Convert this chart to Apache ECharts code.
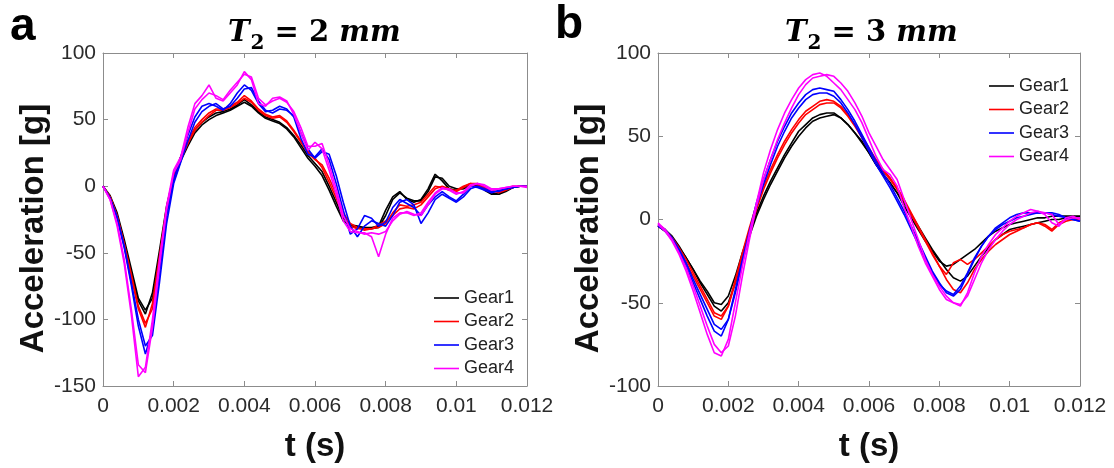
<!DOCTYPE html>
<html>
<head>
<meta charset="utf-8">
<script src="https://cdn.jsdelivr.net/npm/echarts@6/dist/echarts.min.js"></script>
<style>html,body{margin:0;padding:0;background:#fff;}#c{width:1114px;height:468px;}</style>
</head>
<body>
<div id="c"></div>
<script>
// ---- time samples (s) ----
const time = [0,0.0002,0.0004,0.0006,0.0008,0.001,0.0012,0.0014,0.0016,0.0018,0.002,0.0022,0.0024,0.0026,0.0028,0.003,0.0032,0.0034,0.0036,0.0038,0.004,0.0042,0.0044,0.0046,0.0048,0.005,0.0052,0.0054,0.0056,0.0058,0.006,0.0062,0.0064,0.0066,0.0068,0.007,0.0072,0.0074,0.0076,0.0078,0.008,0.0082,0.0084,0.0086,0.0088,0.009,0.0092,0.0094,0.0096,0.0098,0.01,0.0102,0.0104,0.0106,0.0108,0.011,0.0112,0.0114,0.0116,0.0118,0.012];

const gearNames = ['Gear1','Gear2','Gear3','Gear4'];
const gearColors = ['#000000','#ff0000','#0000ff','#ff00ff'];
const xTickLabels = ['0','0.002','0.004','0.006','0.008','0.01','0.012'];

// ---- panel a: T2 = 2 mm (two trials per gear) ----
const aGear1t1 = [0,-8,-22,-42,-65, -86,-96,-80,-48,-15, 8,22,33,42,48, 52,55,56,58,61, 65,61,56,52,50, 48,44,38,31,23, 17,11,0,-12,-24, -29,-30,-31,-31,-30, -18,-8,-4,-10,-12, -10,-2,9,4,-2, -3,-1,1,1,-3, -6,-6,-3,-1,0, 0];
const aGear1t2 = [0,-7,-20,-40,-62, -84,-93,-84,-55,-20, 4,19,30,40,46, 50,53,55,57,60, 63,60,55,51,49, 47,43,37,29,21, 15,8,-3,-15,-26, -30,-31,-32,-32,-31, -22,-10,-5,-9,-11, -11,-4,7,6,0, -2,-2,0,1,-2, -5,-6,-4,-1,0, 0];
const aGear2t1 = [0,-8,-23,-44,-68, -92,-106,-88,-52,-16, 7,22,34,44,50, 55,58,58,60,63, 68,64,58,54,52, 53,49,42,34,26, 21,14,3,-9,-22, -30,-32,-32,-32,-31, -28,-20,-14,-15,-14, -12,-6,0,-1,-3, -3,0,2,1,-2, -4,-4,-2,0,0, 0];
const aGear2t2 = [0,-8,-22,-43,-66, -90,-103,-92,-58,-20, 5,20,32,42,48, 53,57,57,59,62, 66,63,57,53,51, 52,48,41,33,25, 20,16,6,-6,-20, -28,-31,-33,-32,-29, -26,-22,-17,-16,-17, -14,-8,-2,0,-2, -4,-1,2,2,-1, -3,-5,-3,-1,0, 0];
const aGear3t1 = [0,-9,-24,-46,-74, -105,-126,-108,-65,-22, 5,22,38,52,60, 62,60,57,62,70, 76,72,62,56,57, 60,58,52,36,24, 22,28,20,2,-18, -36,-32,-22,-24,-30, -27,-16,-10,-13,-16, -22,-14,-8,-4,-8, -11,-6,0,-1,-3, -5,-3,-2,-1,0, 0];
const aGear3t2 = [0,-9,-23,-45,-72, -100,-120,-112,-72,-28, 2,18,34,48,56, 60,62,58,60,66, 73,74,64,57,55, 58,57,53,40,28, 21,26,24,8,-12, -30,-38,-30,-26,-28, -30,-22,-12,-10,-14, -28,-20,-10,-6,-9, -12,-8,-2,0,-2, -4,-4,-2,-1,0, 0];
const aGear4t1 = [0,-10,-30,-58,-96, -143,-136,-100,-55,-15, 12,22,44,62,68, 76,66,64,70,76, 86,80,62,60,66, 67,64,54,40,27, 33,28,12,-6,-26, -34,-35,-35,-38,-53, -36,-24,-20,-20,-22, -20,-12,-5,-1,-3, -6,-4,1,2,0, -3,-2,-1,0,0, -1];
const aGear4t2 = [0,-10,-28,-55,-92, -134,-140,-106,-60,-18, 10,20,40,58,65, 70,68,65,72,78, 84,82,66,61,64, 66,63,56,44,30, 30,32,16,-2,-22, -32,-34,-36,-35,-36, -34,-26,-21,-19,-21, -22,-14,-6,-2,-2, -5,-5,0,2,1, -2,-2,-1,0,0, 0];

// ---- panel b: T2 = 3 mm (two trials per gear) ----
const bGear1t1 = [-4,-7,-11,-17,-23, -30,-37,-43,-50,-51, -46,-34,-20,-8,4, 14,23,31,39,46, 53,57,61,63,64, 64,61,57,52,47, 40,33,27,22,16, 8,1,-6,-13,-19, -25,-28,-27,-24,-21, -18,-14,-10,-7,-5, -3,-2,-1,0,1, 1,2,2,2,2, 2];
const bGear1t2 = [-4,-6,-10,-16,-23, -30,-38,-45,-52,-55, -50,-38,-24,-10,2, 12,21,29,37,44, 50,55,59,61,62, 63,61,57,52,46, 40,33,27,22,16, 10,3,-4,-11,-18, -24,-30,-35,-37,-34, -28,-22,-17,-12,-9, -6,-5,-4,-3,-2, -1,0,0,1,1, 1];
const bGear2t1 = [-4,-7,-11,-17,-24, -32,-40,-48,-56,-58, -52,-38,-22,-8,6, 18,28,37,45,52, 58,63,66,69,70, 70,67,62,56,49, 42,35,29,24,18, 11,3,-5,-13,-21, -28,-33,-26,-24,-27, -24,-20,-16,-12,-9, -7,-6,-5,-3,-2, -4,-7,-3,-1,0, 0];
const bGear2t2 = [-3,-6,-11,-18,-26, -34,-42,-50,-58,-60, -52,-36,-20,-5,9, 20,30,39,47,54, 60,65,68,71,72, 71,68,63,57,50, 43,36,30,25,19, 12,4,-4,-12,-20, -28,-36,-42,-44,-38, -30,-24,-19,-15,-12, -9,-7,-5,-3,-2, -3,-6,-2,0,0, 0];
const bGear3t1 = [-4,-7,-12,-19,-28, -38,-48,-58,-67,-70, -60,-42,-24,-7,10, 24,36,47,56,64, 70,75,78,79,78, 77,72,66,59,51, 43,35,28,21,13, 5,-4,-13,-22,-31, -38,-44,-46,-42,-33, -24,-16,-10,-5,-2, 1,3,4,4,4, 4,3,2,1,0, -1];
const bGear3t2 = [-3,-6,-11,-18,-26, -36,-45,-54,-63,-66, -60,-44,-26,-9,8, 21,33,44,53,61, 67,72,75,76,76, 74,70,64,57,49, 41,33,26,19,11, 3,-6,-15,-24,-32, -39,-43,-45,-40,-32, -23,-16,-10,-6,-3, -1,1,2,3,4, 4,4,3,1,0, -1];
const bGear4t1 = [-3,-7,-13,-21,-31, -43,-56,-69,-80,-82, -72,-50,-28,-8,10, 28,42,54,64,72, 79,84,87,88,86, 82,78,72,66,58, 48,38,30,27,20, 7,-4,-16,-26,-34, -42,-48,-50,-52,-44, -32,-22,-15,-9,-5, -1,2,4,6,5, 3,-2,-4,1,2, 0];
const bGear4t2 = [-2,-6,-12,-20,-29, -40,-52,-64,-75,-80, -76,-58,-34,-12,8, 24,36,48,58,67, 75,81,85,86,87, 86,82,77,70,62, 52,44,36,30,24, 12,0,-12,-24,-33, -40,-46,-50,-51,-46, -36,-26,-18,-12,-7, -3,0,2,4,5, 4,3,-3,0,1, 1];

const panelA = [[aGear1t1,aGear1t2],[aGear2t1,aGear2t2],[aGear3t1,aGear3t2],[aGear4t1,aGear4t2]];
const panelB = [[bGear1t1,bGear1t2],[bGear2t1,bGear2t2],[bGear3t1,bGear3t2],[bGear4t1,bGear4t2]];

const SANS = '"Liberation Sans", Arial, sans-serif';
const SERIF = '"DejaVu Serif", serif';
const axisGray = '#8c8c8c';
const labelColor = '#2b2b2b';

function pairs(vals){ return time.map((t,i)=>[t, vals[i]]); }

const series = [];
function addPanel(panel, axisIdx){
  panel.forEach((trials, g) => {
    trials.forEach(vals => {
      series.push({
        type:'line', name:gearNames[g], xAxisIndex:axisIdx, yAxisIndex:axisIdx,
        data:pairs(vals), symbol:'none', smooth:false, animation:false,
        lineStyle:{color:gearColors[g], width:1.6}, itemStyle:{color:gearColors[g]}
      });
    });
  });
}
addPanel(panelA, 0);
addPanel(panelB, 2);

function xAxisMain(gridIndex){
  return {
    type:'value', gridIndex, min:0, max:0.012, interval:0.002,
    name:'t (s)', nameLocation:'middle', nameGap:44,
    nameTextStyle:{fontFamily:SANS, fontWeight:'bold', fontSize:33, color:'#111'},
    axisLine:{show:true, onZero:false, lineStyle:{color:axisGray, width:1}},
    axisTick:{show:true, inside:true, length:5, lineStyle:{color:axisGray}},
    axisLabel:{fontFamily:SANS, fontSize:21, color:labelColor, margin:10,
      formatter:v => xTickLabels[Math.round(v/0.002)]},
    splitLine:{show:false}
  };
}
function xAxisTop(gridIndex){
  return {
    type:'value', gridIndex, position:'top', min:0, max:0.012, interval:0.002,
    axisLine:{show:true, onZero:false, lineStyle:{color:axisGray, width:1}},
    axisTick:{show:true, inside:true, length:5, lineStyle:{color:axisGray}},
    axisLabel:{show:false}, splitLine:{show:false}
  };
}
function yAxisMain(gridIndex, min){
  return {
    type:'value', gridIndex, min:min, max:100, interval:50,
    name:'Acceleration [g]', nameLocation:'middle', nameGap:49,
    nameTextStyle:{fontFamily:SANS, fontWeight:'bold', fontSize:33, color:'#111', padding:[0,18,0,0]},
    axisLine:{show:true, onZero:false, lineStyle:{color:axisGray, width:1}},
    axisTick:{show:true, inside:true, length:5, lineStyle:{color:axisGray}},
    axisLabel:{fontFamily:SANS, fontSize:21, color:labelColor, margin:7},
    splitLine:{show:false}
  };
}
function yAxisRight(gridIndex, min){
  return {
    type:'value', gridIndex, position:'right', min:min, max:100, interval:50,
    axisLine:{show:true, onZero:false, lineStyle:{color:axisGray, width:1}},
    axisTick:{show:true, inside:true, length:5, lineStyle:{color:axisGray}},
    axisLabel:{show:false}, splitLine:{show:false}
  };
}

function legendAt(left, top){
  return {
    orient:'vertical', left:left, top:top, data:gearNames,
    icon:'rect', itemWidth:25, itemHeight:1.6, itemGap:5.5,
    textStyle:{fontFamily:SANS, fontSize:18, color:'#222', lineHeight:18},
    selectedMode:false
  };
}

// title pieces positioned by measuring the text
const mctx = document.createElement('canvas').getContext('2d');
function measure(font, s){ mctx.font = font; return mctx.measureText(s).width; }
function titleParts(x0, baseY, num){
  const fs = 29, fsSub = 20;
  const fI = 'italic bold ' + fs + 'px ' + SERIF;
  const fN = 'bold ' + fs + 'px ' + SERIF;
  const fS = 'bold ' + fsSub + 'px ' + SERIF;
  const parts = [];
  let x = x0;
  const add = (text, font, size, italic, y) => {
    parts.push({type:'text', left:x, top:y, z:10, style:{text:text, fontFamily:SERIF, fontSize:size,
      fontWeight:'bold', fontStyle: italic ? 'italic' : 'normal', fill:'#000'}});
    x += measure(font, text);
  };
  add('T', fI, fs, true, baseY);
  x += 1;
  add('2', fS, fsSub, false, baseY + 15);
  add(' = ' + num + ' ', fN, fs, false, baseY);
  add('mm', fI, fs, true, baseY);
  return parts;
}

const option = {
  animation:false,
  backgroundColor:'#ffffff',
  grid:[
    {left:103, top:53, width:424, height:333},
    {left:658, top:53, width:422, height:333}
  ],
  xAxis:[xAxisMain(0), xAxisTop(0), xAxisMain(1), xAxisTop(1)],
  yAxis:[yAxisMain(0,-150), yAxisRight(0,-150), yAxisMain(1,-100), yAxisRight(1,-100)],
  legend:[legendAt(429, 284), legendAt(984, 72)],
  graphic:[
    {type:'text', left:10, top:4, style:{text:'a', fontFamily:SANS, fontWeight:'bold', fontSize:46, fill:'#000'}},
    {type:'text', left:555, top:2, style:{text:'b', fontFamily:SANS, fontWeight:'bold', fontSize:46, fill:'#000'}}
  ].concat(titleParts(228, 19, '2'), titleParts(785, 19, '3')),
  series:series
};

const chart = echarts.init(document.getElementById('c'), null, {renderer:'canvas'});
chart.setOption(option);
</script>
</body>
</html>
